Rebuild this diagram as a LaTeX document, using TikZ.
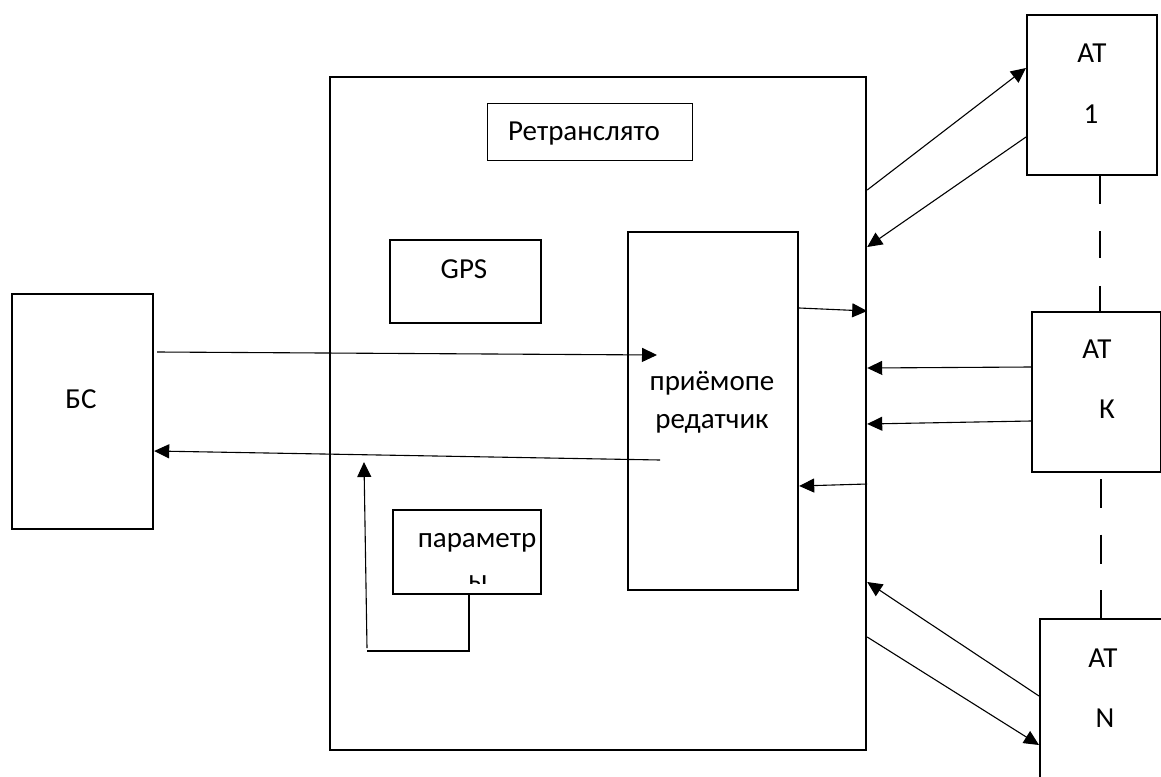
\documentclass[tikz,border=0pt]{standalone}
\usepackage{fontspec}
\setmainfont{Carlito}
\usetikzlibrary{arrows.meta}

\begin{document}
\begin{tikzpicture}[x=1pt,y=-1pt,
  box/.style={draw, line width=2.2pt, inner sep=0pt, anchor=north west},
  thinbox/.style={box, line width=1.3pt},
  txt/.style={font=\fontsize{29}{34}\selectfont, inner sep=0pt, anchor=base},
  arr/.style={line width=1.1pt, -{Triangle[length=15pt,width=14pt]}},
  wire/.style={line width=1.1pt},
  dshA/.style={line width=1.2pt, dash pattern=on 27.4pt off 27.4pt},
  dshB/.style={line width=1.2pt, dash pattern=on 29pt off 26.5pt, dash phase=49.5pt}]

\useasboundingbox (0,0) rectangle (1161,776);
\clip (0,0) rectangle (1161,776);

% blocks
\node[box, minimum width=141pt, minimum height=235pt] (bs) at (11,293) {};
\node[box, minimum width=536pt, minimum height=673pt] (big) at (329,76) {};
\node[thinbox, minimum width=205pt, minimum height=57pt] (rtr) at (487,103) {};
\node[box, minimum width=151pt, minimum height=83pt] (gps) at (389,239) {};
\node[box, minimum width=170pt, minimum height=358pt] (trx) at (627,231) {};
\node[box, minimum width=148pt, minimum height=84pt] (par) at (392,509) {};
\node[box, minimum width=130pt, minimum height=160pt] (at1) at (1026,14) {};
\node[box, minimum width=129pt, minimum height=160pt] (atk) at (1031,311) {};
\node[box, minimum width=140pt, minimum height=200pt] (atn) at (1039,618) {};

% labels
\node[txt] (bs-t) at (81,408) {БС};
\node[txt] (rtr-t) at (584,140) {Ретранслято};
\node[txt] (gps-t) at (464,278) {GPS};
\node[txt] (trx-t1) at (712,390) {приёмопе};
\node[txt] (trx-t2) at (712,428) {редатчик};
\node[txt] (par-t1) at (477,547) {параметр};
\begin{scope}
  \clip (392,509) rectangle (540,583);
  \node[txt] (par-t2) at (478,589) {ы};
\end{scope}
\node[txt] (at1-t1) at (1092,63) {АТ};
\node[txt] (at1-t2) at (1091,123) {1};
\node[txt] (atk-t1) at (1097,358) {АТ};
\node[txt] (atk-t2) at (1107,418) {К};
\node[txt] (atn-t1) at (1103,667) {АТ};
\node[txt] (atn-t2) at (1105,727) {N};

% free ends inside the repeater
\coordinate (trxin) at (657,355);
\coordinate (trxout) at (660,460);
\coordinate (fb) at (364,462);
\coordinate (fbcorner) at (367,651);

% base station link
\draw[arr] ([xshift=3pt]bs.east |- 0,352) -- (trxin);
\draw[arr] (trxout) -- (bs.east |- 0,451);

% parameters feedback
\draw[wire] (par.south -| 469,0) -- (469,651) -- (fbcorner);
\draw[arr] ([yshift=3pt]fbcorner) -- (fb);

% transceiver to repeater boundary
\draw[arr] (trx.east |- 0,308) -- (big.east |- 0,311);
\draw[arr] (big.east |- 0,484) -- (trx.east |- 0,486);

% subscriber terminals
\draw[arr] (big.east |- 0,190) -- (at1.west |- 0,68);
\draw[arr] (at1.west |- 0,137) -- (big.east |- 0,247);
\draw[arr] (atk.west |- 0,367) -- (big.east |- 0,368);
\draw[arr] (atk.west |- 0,421) -- (big.east |- 0,424);
\draw[arr] (atn.west |- 0,696) -- (big.east |- 0,582);
\draw[arr] (big.east |- 0,637) -- (atn.west |- 0,745);

% terminals in between
\draw[dshA] (at1.south -| 1100,0) -- (atk.north -| 1100,0);
\draw[dshB] (atk.south -| 1101,0) -- (atn.north -| 1101,0);
\end{tikzpicture}
\end{document}
